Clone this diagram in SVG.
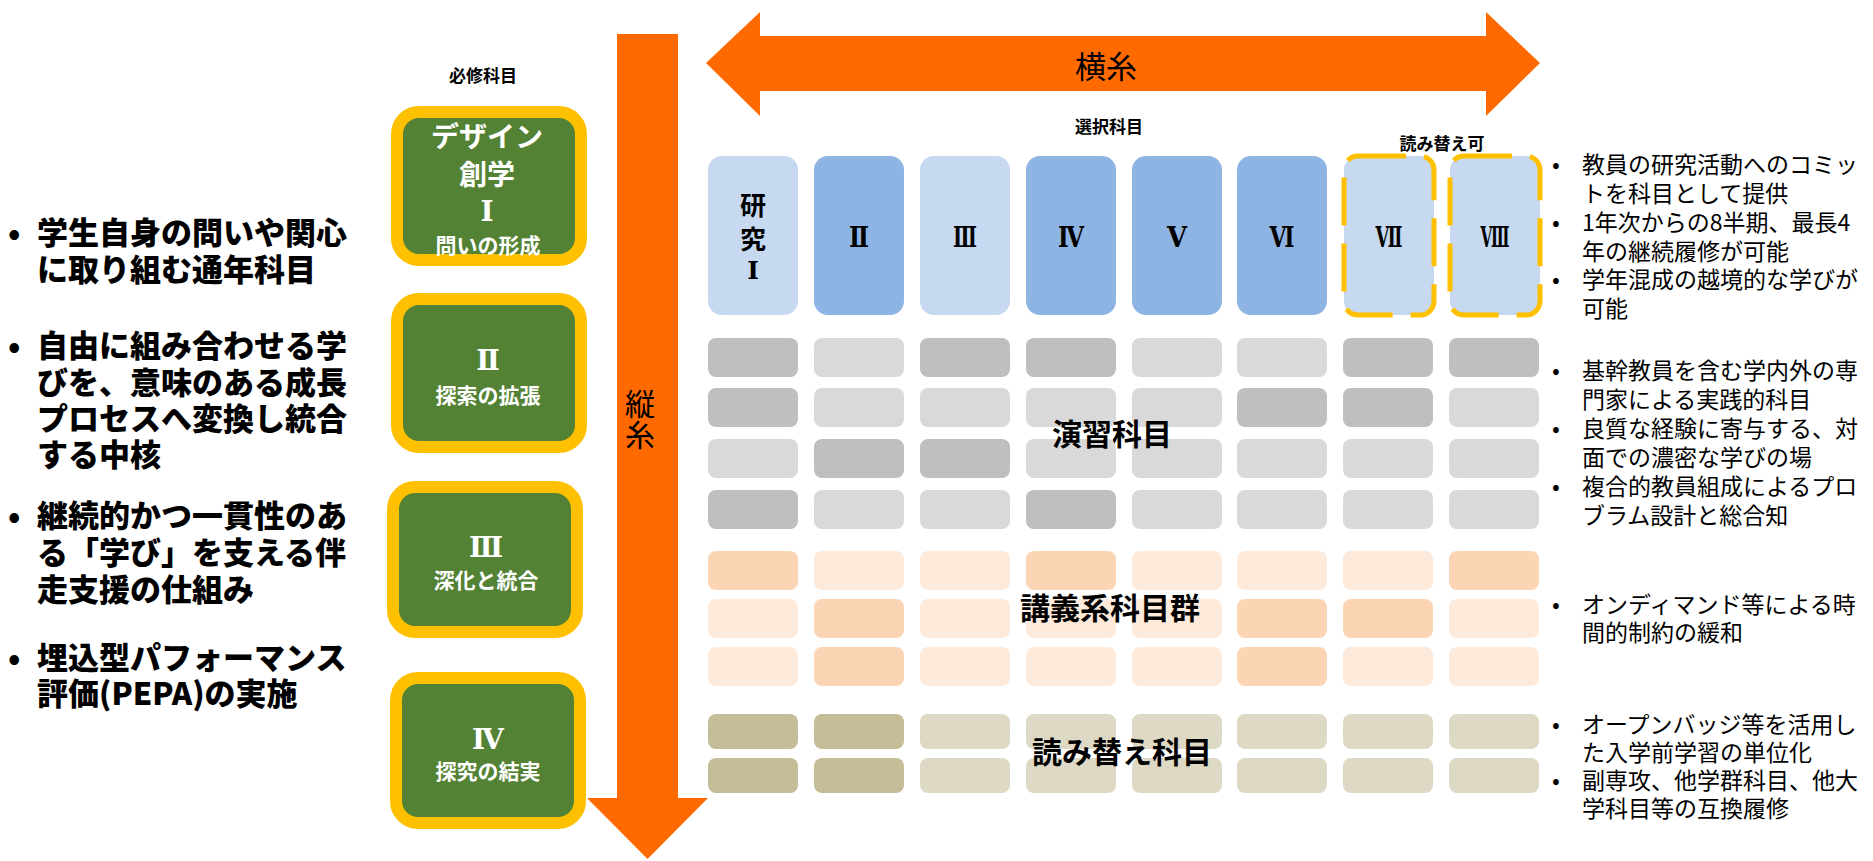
<svg xmlns="http://www.w3.org/2000/svg" width="1873" height="861" viewBox="0 0 1873 861">
<style>
.jp{font-family:"Noto Sans CJK JP","Noto Sans",sans-serif}
.rn{font-family:"DejaVu Serif","Noto Sans CJK JP",serif;font-weight:700}
.b{font-weight:700}
.w{fill:#fff}
.k{fill:#000}
.c{text-anchor:middle;dominant-baseline:central}
.l{dominant-baseline:central}
.gbox{fill:#548235;stroke:#FFC000;stroke-width:12}
.t1{fill:#C6D9F1}
.t2{fill:#8EB4E3}
.gd{fill:#BFBFBF}.gl{fill:#D9D9D9}
.od{fill:#FCD5B5}.ol{fill:#FDEADA}
.nd{fill:#C4BD97}.nl{fill:#DDD9C4}
.dash{fill:none;stroke:#FFC000;stroke-width:5;stroke-dasharray:48 18}
.arrow{fill:#FF6A00}
.lt{font-size:31px;font-weight:800}
.rt{font-size:23px}
</style>

<g id="connectors">
  <polygon class="arrow" points="706,63 760,12 760,36 1486,36 1486,12 1540,63 1486,116 1486,91 760,91 760,116"/>
  <polygon class="arrow" points="617,34 678,34 678,798 708,798 647.5,859 587,798 617,798"/>
  <text class="jp k c" x="1106" y="64" font-size="31">横糸</text>
  <text class="jp k c" x="640" y="402" font-size="30">縦</text>
  <text class="jp k c" x="640" y="433" font-size="30">糸</text>
</g>

<g id="labels">
  <text class="jp b k c" x="483" y="74" font-size="17">必修科目</text>
  <text class="jp b k c" x="1109" y="125" font-size="17">選択科目</text>
  <text class="jp b k c" x="1442" y="142" font-size="17">読み替え可</text>
</g>

<g id="left-text" class="jp k lt">
  <text x="8" y="230" class="l">•</text>
  <text x="37" y="230" class="l">学生自身の問いや関心</text>
  <text x="37" y="267" class="l">に取り組む通年科目</text>
  <text x="8" y="343" class="l">•</text>
  <text x="37" y="343" class="l">自由に組み合わせる学</text>
  <text x="37" y="380" class="l">びを、意味のある成長</text>
  <text x="37" y="416" class="l">プロセスへ変換し統合</text>
  <text x="37" y="452" class="l">する中核</text>
  <text x="8" y="513" class="l">•</text>
  <text x="37" y="513" class="l">継続的かつ一貫性のあ</text>
  <text x="37" y="550" class="l">る「学び」を支える伴</text>
  <text x="37" y="587" class="l">走支援の仕組み</text>
  <text x="8" y="655" class="l">•</text>
  <text x="37" y="655" class="l">埋込型パフォーマンス</text>
  <text x="37" y="691" class="l">評価(PEPA)の実施</text>
</g>

<g id="req1">
  <rect class="gbox" x="397" y="112" width="184" height="148" rx="22"/>
  <text class="jp b w c" x="487" y="135" font-size="28">デザイン</text>
  <text class="jp b w c" x="487" y="173" font-size="28">創学</text>
  <text class="rn w c" x="487" y="211" font-size="28">Ⅰ</text>
  <text class="jp b w c" x="488" y="244" font-size="21">問いの形成</text>
</g>
<g id="req2">
  <rect class="gbox" x="397" y="299" width="184" height="148" rx="22"/>
  <text class="rn w c" x="488" y="360" font-size="28">Ⅱ</text>
  <text class="jp b w c" x="488" y="394" font-size="21">探索の拡張</text>
</g>
<g id="req3">
  <rect class="gbox" x="393" y="487" width="184" height="145" rx="22"/>
  <text class="rn w c" x="486" y="547" font-size="28">Ⅲ</text>
  <text class="jp b w c" x="486" y="579" font-size="21">深化と統合</text>
</g>
<g id="req4">
  <rect class="gbox" x="396" y="678" width="184" height="145" rx="22"/>
  <text class="rn w c" x="488" y="739" font-size="28">Ⅳ</text>
  <text class="jp b w c" x="488" y="770" font-size="21">探究の結実</text>
</g>

<g id="research">
  <rect class="t1" x="708" y="156" width="90" height="159" rx="14"/>
  <text class="jp b k c" x="753" y="203" font-size="26">研</text>
  <text class="jp b k c" x="753" y="237" font-size="26">究</text>
  <text class="rn k c" x="753" y="270" font-size="25">Ⅰ</text>
  <rect class="t2" x="814" y="156" width="90" height="159" rx="14"/>
  <text class="rn k c" x="859" y="237" font-size="27" textLength="20" lengthAdjust="spacingAndGlyphs">Ⅱ</text>
  <rect class="t1" x="920" y="156" width="90" height="159" rx="14"/>
  <text class="rn k c" x="965" y="237" font-size="27" textLength="24" lengthAdjust="spacingAndGlyphs">Ⅲ</text>
  <rect class="t2" x="1026" y="156" width="90" height="159" rx="14"/>
  <text class="rn k c" x="1071" y="237" font-size="27" textLength="26" lengthAdjust="spacingAndGlyphs">Ⅳ</text>
  <rect class="t2" x="1132" y="156" width="90" height="159" rx="14"/>
  <text class="rn k c" x="1177" y="237" font-size="27" textLength="20" lengthAdjust="spacingAndGlyphs">Ⅴ</text>
  <rect class="t2" x="1237" y="156" width="90" height="159" rx="14"/>
  <text class="rn k c" x="1282" y="237" font-size="27" textLength="25" lengthAdjust="spacingAndGlyphs">Ⅵ</text>
  <rect class="t1" x="1344" y="156" width="90" height="159" rx="14"/>
  <rect class="dash" x="1344" y="156" width="90" height="159" rx="14"/>
  <text class="rn k c" x="1389" y="237" font-size="27" textLength="27" lengthAdjust="spacingAndGlyphs">Ⅶ</text>
  <rect class="t1" x="1450" y="156" width="90" height="159" rx="14"/>
  <rect class="dash" x="1450" y="156" width="90" height="159" rx="14"/>
  <text class="rn k c" x="1495" y="237" font-size="27" textLength="29" lengthAdjust="spacingAndGlyphs">Ⅷ</text>
</g>

<g id="practice">
  <rect class="gd" x="708" y="338" width="90" height="39" rx="8"/>
  <rect class="gl" x="814" y="338" width="90" height="39" rx="8"/>
  <rect class="gd" x="920" y="338" width="90" height="39" rx="8"/>
  <rect class="gd" x="1026" y="338" width="90" height="39" rx="8"/>
  <rect class="gl" x="1132" y="338" width="90" height="39" rx="8"/>
  <rect class="gl" x="1237" y="338" width="90" height="39" rx="8"/>
  <rect class="gd" x="1343" y="338" width="90" height="39" rx="8"/>
  <rect class="gd" x="1449" y="338" width="90" height="39" rx="8"/>

  <rect class="gd" x="708" y="388" width="90" height="39" rx="8"/>
  <rect class="gl" x="814" y="388" width="90" height="39" rx="8"/>
  <rect class="gl" x="920" y="388" width="90" height="39" rx="8"/>
  <rect class="gl" x="1026" y="388" width="90" height="39" rx="8"/>
  <rect class="gl" x="1132" y="388" width="90" height="39" rx="8"/>
  <rect class="gd" x="1237" y="388" width="90" height="39" rx="8"/>
  <rect class="gd" x="1343" y="388" width="90" height="39" rx="8"/>
  <rect class="gl" x="1449" y="388" width="90" height="39" rx="8"/>

  <rect class="gl" x="708" y="439" width="90" height="39" rx="8"/>
  <rect class="gd" x="814" y="439" width="90" height="39" rx="8"/>
  <rect class="gd" x="920" y="439" width="90" height="39" rx="8"/>
  <rect class="gl" x="1026" y="439" width="90" height="39" rx="8"/>
  <rect class="gl" x="1132" y="439" width="90" height="39" rx="8"/>
  <rect class="gl" x="1237" y="439" width="90" height="39" rx="8"/>
  <rect class="gl" x="1343" y="439" width="90" height="39" rx="8"/>
  <rect class="gl" x="1449" y="439" width="90" height="39" rx="8"/>

  <rect class="gd" x="708" y="490" width="90" height="39" rx="8"/>
  <rect class="gl" x="814" y="490" width="90" height="39" rx="8"/>
  <rect class="gl" x="920" y="490" width="90" height="39" rx="8"/>
  <rect class="gd" x="1026" y="490" width="90" height="39" rx="8"/>
  <rect class="gl" x="1132" y="490" width="90" height="39" rx="8"/>
  <rect class="gl" x="1237" y="490" width="90" height="39" rx="8"/>
  <rect class="gl" x="1343" y="490" width="90" height="39" rx="8"/>
  <rect class="gl" x="1449" y="490" width="90" height="39" rx="8"/>
  <text class="jp b k c" x="1112" y="432" font-size="30">演習科目</text>
</g>

<g id="lecture">
  <rect class="od" x="708" y="551" width="90" height="39" rx="8"/>
  <rect class="ol" x="814" y="551" width="90" height="39" rx="8"/>
  <rect class="ol" x="920" y="551" width="90" height="39" rx="8"/>
  <rect class="od" x="1026" y="551" width="90" height="39" rx="8"/>
  <rect class="ol" x="1132" y="551" width="90" height="39" rx="8"/>
  <rect class="ol" x="1237" y="551" width="90" height="39" rx="8"/>
  <rect class="ol" x="1343" y="551" width="90" height="39" rx="8"/>
  <rect class="od" x="1449" y="551" width="90" height="39" rx="8"/>

  <rect class="ol" x="708" y="599" width="90" height="39" rx="8"/>
  <rect class="od" x="814" y="599" width="90" height="39" rx="8"/>
  <rect class="ol" x="920" y="599" width="90" height="39" rx="8"/>
  <rect class="ol" x="1026" y="599" width="90" height="39" rx="8"/>
  <rect class="ol" x="1132" y="599" width="90" height="39" rx="8"/>
  <rect class="od" x="1237" y="599" width="90" height="39" rx="8"/>
  <rect class="od" x="1343" y="599" width="90" height="39" rx="8"/>
  <rect class="ol" x="1449" y="599" width="90" height="39" rx="8"/>

  <rect class="ol" x="708" y="647" width="90" height="39" rx="8"/>
  <rect class="od" x="814" y="647" width="90" height="39" rx="8"/>
  <rect class="ol" x="920" y="647" width="90" height="39" rx="8"/>
  <rect class="ol" x="1026" y="647" width="90" height="39" rx="8"/>
  <rect class="ol" x="1132" y="647" width="90" height="39" rx="8"/>
  <rect class="od" x="1237" y="647" width="90" height="39" rx="8"/>
  <rect class="ol" x="1343" y="647" width="90" height="39" rx="8"/>
  <rect class="ol" x="1449" y="647" width="90" height="39" rx="8"/>
  <text class="jp b k c" x="1110" y="606" font-size="30">講義系科目群</text>
</g>

<g id="substitution">
  <rect class="nd" x="708" y="714" width="90" height="35" rx="8"/>
  <rect class="nd" x="814" y="714" width="90" height="35" rx="8"/>
  <rect class="nl" x="920" y="714" width="90" height="35" rx="8"/>
  <rect class="nl" x="1026" y="714" width="90" height="35" rx="8"/>
  <rect class="nl" x="1132" y="714" width="90" height="35" rx="8"/>
  <rect class="nl" x="1237" y="714" width="90" height="35" rx="8"/>
  <rect class="nl" x="1343" y="714" width="90" height="35" rx="8"/>
  <rect class="nl" x="1449" y="714" width="90" height="35" rx="8"/>

  <rect class="nd" x="708" y="758" width="90" height="35" rx="8"/>
  <rect class="nd" x="814" y="758" width="90" height="35" rx="8"/>
  <rect class="nl" x="920" y="758" width="90" height="35" rx="8"/>
  <rect class="nl" x="1026" y="758" width="90" height="35" rx="8"/>
  <rect class="nl" x="1132" y="758" width="90" height="35" rx="8"/>
  <rect class="nl" x="1237" y="758" width="90" height="35" rx="8"/>
  <rect class="nl" x="1343" y="758" width="90" height="35" rx="8"/>
  <rect class="nl" x="1449" y="758" width="90" height="35" rx="8"/>
  <text class="jp b k c" x="1122" y="750" font-size="30">読み替え科目</text>
</g>

<g id="right-text" class="jp k rt">
  <text x="1552" y="163" class="l">•</text>
  <text x="1582" y="163" class="l">教員の研究活動へのコミッ</text>
  <text x="1582" y="192" class="l">トを科目として提供</text>
  <text x="1552" y="221" class="l">•</text>
  <text x="1582" y="221" class="l">1年次からの8半期、最長4</text>
  <text x="1582" y="250" class="l">年の継続履修が可能</text>
  <text x="1552" y="278" class="l">•</text>
  <text x="1582" y="278" class="l">学年混成の越境的な学びが</text>
  <text x="1582" y="307" class="l">可能</text>

  <text x="1552" y="369" class="l">•</text>
  <text x="1582" y="369" class="l">基幹教員を含む学内外の専</text>
  <text x="1582" y="398" class="l">門家による実践的科目</text>
  <text x="1552" y="427" class="l">•</text>
  <text x="1582" y="427" class="l">良質な経験に寄与する、対</text>
  <text x="1582" y="456" class="l">面での濃密な学びの場</text>
  <text x="1552" y="485" class="l">•</text>
  <text x="1582" y="485" class="l">複合的教員組成によるプロ</text>
  <text x="1582" y="514" class="l">ブラム設計と総合知</text>

  <text x="1552" y="603" class="l">•</text>
  <text x="1582" y="603" class="l">オンディマンド等による時</text>
  <text x="1582" y="631" class="l">間的制約の緩和</text>

  <text x="1552" y="723" class="l">•</text>
  <text x="1582" y="723" class="l">オープンバッジ等を活用し</text>
  <text x="1582" y="751" class="l">た入学前学習の単位化</text>
  <text x="1552" y="779" class="l">•</text>
  <text x="1582" y="779" class="l">副専攻、他学群科目、他大</text>
  <text x="1582" y="807" class="l">学科目等の互換履修</text>
</g>
</svg>
